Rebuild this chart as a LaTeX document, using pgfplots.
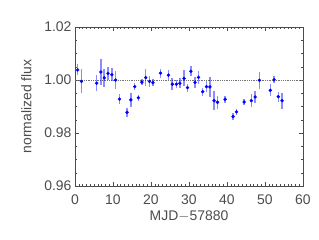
\documentclass[border=0pt]{standalone}
\usepackage{fontspec}
\setmainfont{Liberation Sans}
\usepackage{pgfplots}
\pgfplotsset{compat=1.18}
\usepackage{pgfplotstable}
\pgfplotstableread{
x y e
0.7 1.0038 0.0021
1.7 0.9995 0.0045
5.7 0.9988 0.0030
6.8 1.0030 0.0050
7.7 1.0008 0.0035
8.7 1.0025 0.0024
9.7 1.0020 0.0024
10.7 1.0000 0.0035
11.7 0.9928 0.0020
13.7 0.9878 0.0017
14.7 0.9925 0.0027
15.7 0.9975 0.0013
16.7 0.9933 0.0011
17.6 0.9992 0.0010
18.6 1.0009 0.0033
19.6 0.9995 0.0020
20.5 0.9990 0.0012
22.5 1.0026 0.0017
24.6 1.0018 0.0018
25.6 0.9984 0.0023
26.7 0.9984 0.0015
27.6 0.9988 0.0019
28.7 1.0006 0.0030
29.6 0.9971 0.0015
30.5 1.0033 0.0018
31.6 0.9991 0.0021
32.5 1.0010 0.0025
33.6 0.9956 0.0015
34.6 0.9975 0.0022
35.5 0.9974 0.0038
36.6 0.9922 0.0035
37.5 0.9916 0.0024
39.5 0.9927 0.0012
41.6 0.9862 0.0012
42.5 0.9880 0.0012
44.5 0.9917 0.0011
46.4 0.9922 0.0025
47.4 0.9936 0.0022
48.5 0.9999 0.0033
51.4 0.9961 0.0023
52.4 1.0001 0.0014
53.5 0.9937 0.0019
54.5 0.9922 0.0030
}\fluxdata
\begin{document}
\begin{tikzpicture}
\begin{axis}[
  scale only axis,
  width=228bp, height=159bp,
  xmin=0, xmax=60, ymin=0.96, ymax=1.02,
  xtick={0,10,...,60},
  ytick={0.96,0.98,1.00,1.02},
  minor x tick num=9,
  minor y tick num=3,
  major tick length=4bp,
  minor tick length=2bp,
  tick style={black!70, line width=0.5pt},
  axis line style={black!70, line width=0.7pt},
  font=\fontsize{14}{16}\selectfont,
  tick label style={black!70, font=\fontsize{14}{16}\selectfont},
  yticklabel style={/pgf/number format/.cd, fixed, fixed zerofill, precision=2},
  /pgf/number format/assume math mode=true,
  xticklabel style={yshift=-5bp},
  xlabel={MJD$-$57880},
  ylabel={normalized flux},
  ylabel shift=6bp,
  label style={black!70},
  scaled y ticks=false,
  clip=false,
]
\addplot[black!55, densely dotted, line width=0.8pt] coordinates {(0,1) (60,1)};
\addplot[only marks, mark=*, mark size=1.5bp, blue,
  error bars/.cd, y dir=both, y explicit,
  error mark=none,
  error bar style={blue, opacity=0.45, line width=1.6bp}]
  table[x=x, y=y, y error=e] {\fluxdata};
\end{axis}
\path[use as bounding box] (-75bp,-54bp) rectangle (244bp,186bp);
\end{tikzpicture}
\end{document}
